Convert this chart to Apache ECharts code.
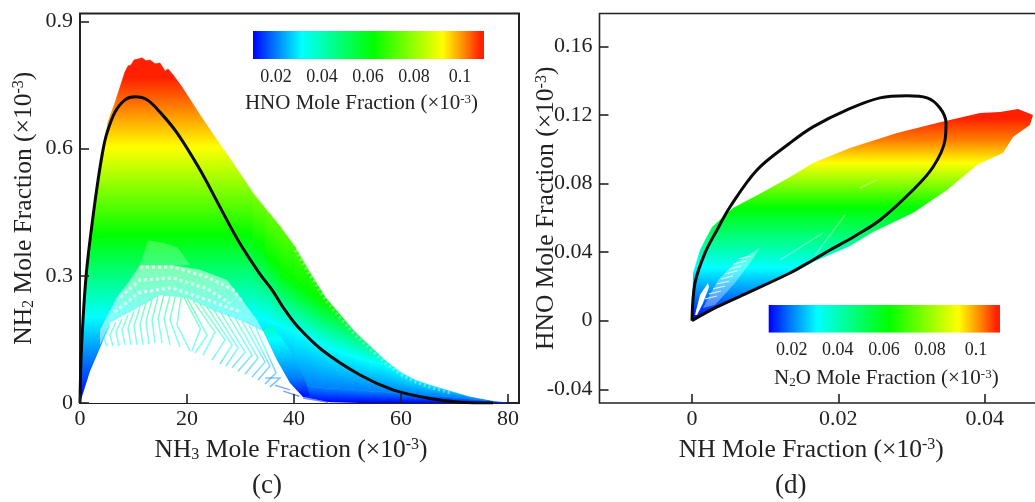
<!DOCTYPE html>
<html><head><meta charset="utf-8">
<style>html,body{margin:0;padding:0;background:#fff}#chart{width:1035px;height:502px}</style>
<script src="https://cdn.jsdelivr.net/npm/echarts@6/dist/echarts.min.js"></script>
</head><body><div id="chart"></div>
<script>
// ---------- Axis ticks ----------
const C_X_TICKS = [0, 20, 40, 60, 80];
const C_Y_TICKS = [0, 0.3, 0.6, 0.9];
const D_X_TICKS = [0, 0.02, 0.04];
const D_Y_TICKS = [-0.04, 0, 0.04, 0.08, 0.12, 0.16];
const BAR_TICKS = [0.02, 0.04, 0.06, 0.08, 0.1];

// ---------- Panel (c): NH3 (x) vs NH2 (y) ----------
const C_BLACK = [[0,0],[0.19,0.101],[0.56,0.196],[1.12,0.297],[1.87,0.384],[3.18,0.509],[4.3,0.597],[5.05,0.637],[6.54,0.686],[8.41,0.715],[10.28,0.722],[12.52,0.715],[14.95,0.686],[18.13,0.637],[22.43,0.55],[26.17,0.462],[29.53,0.384],[33.64,0.304],[35.89,0.267],[38.32,0.219],[40.75,0.179],[45.23,0.125],[52.34,0.066],[58.5,0.031],[64.86,0.012],[71.03,0.002],[77.2,0]];
// left part of the coloured cloud
const C_CLOUD_LEFT = [[0,0],[0.19,0.101],[0.56,0.196],[1.12,0.297],[1.87,0.384],[3.18,0.509],[4.3,0.597],[5.23,0.663],[6.54,0.708],[8.41,0.781],[8.97,0.795],[9.53,0.797],[10.09,0.809],[10.84,0.811],[11.59,0.814],[12.34,0.807],[13.08,0.809],[14.02,0.8],[14.95,0.802],[15.89,0.783],[16.45,0.788],[17.38,0.774],[19.07,0.745],[22.43,0.679],[25.61,0.62],[28.6,0.566],[32.34,0.495],[32.34,0]];
// right limb of the cloud, read column by column
const C_COL_X     = [32.34,34.58,37.38,40.19,42.99,45.79,48.6,51.4,54.21,57.01,59.81,62.62,65.42,69.16,72.9,76.64,79.81];
const C_COL_TOP   = [0.495,0.46,0.417,0.368,0.307,0.25,0.208,0.167,0.134,0.101,0.073,0.054,0.042,0.028,0.014,0.005,0];
const C_COL_GREEN = [0.384,0.361,0.309,0.283,0.257,0.235,0.22,0.2,0.18,0.165,0.15,0.14,0.13,0.12,0.11,0.1,0.09];
const C_COL_CYAN  = [0.203,0.196,0.184,0.167,0.153,0.134,0.12,0.108,0.098,0.09,0.075,0.062,0.05,0.04,0.032,0.025,0.02];
const C_COL_AZURE = [0.066,0.059,0.052,0.045,0.04,0.035,0.033,0.031,0.028,0.026,0.023,0.02,0.018,0.015,0.01,0.006,0.003];
const C_COL_FLOOR = [0,0,0,0,0,0,0,0,0,0,0,0,0,0,0,0,0];
const C_COL_YELLOW = [0.604,0.604,0.604,0.604,0.604,0.604,0.604,0.604,0.604,0.604,0.604,0.604,0.604,0.604,0.604,0.604,0.604];
const C_FRINGE = [[40.19,0.36],[42.99,0.3],[45.79,0.243],[48.6,0.2],[51.4,0.16],[54.21,0.127],[57.01,0.095],[59.81,0.068],[62.62,0.05],[65.42,0.037],[69.16,0.024]];
// levels of the colour scale on the NH2 axis
const C_LEFT_LEVELS = [0, 0.108, 0.203, 0.396, 0.604, 0.696, 0.767];
const C_BAND_LEVELS = [0.01, 0.06, 0.15, 0.28, 0.604, 0.696, 0.767];
const C_STROKE_LEVELS = [0, 0.05, 0.13, 0.34, 0.604, 0.696, 0.767];
// sparsely sampled regions
const C_BAND = [[34.21,0.17],[36.82,0.101],[39.25,0.047],[41.68,0.014],[42.99,0.017],[42.06,0.054],[39.25,0.125],[35.89,0.184]];
const C_PALE = [[3.74,0.137],[3.74,0.172],[6.92,0.25],[8.97,0.283],[11.21,0.325],[17.38,0.325],[22.43,0.314],[27.48,0.29],[29.91,0.25],[33.08,0.196],[34.21,0.17],[29.91,0.196],[24.86,0.219],[20,0.248],[14.95,0.255],[9.91,0.219],[5.61,0.189]];
const C_FUZZ = [[11.21,0.325],[12.71,0.384],[15.89,0.377],[18.32,0.366],[20.56,0.325]];
const C_BEADS = [
 [[11.21,0.321],[17.38,0.321],[23.74,0.297],[28.6,0.267],[30.47,0.236]],
 [[7.5,0.25],[11.2,0.29],[17.4,0.295],[23.7,0.27],[28,0.235]],
 [[6.5,0.215],[11,0.26],[17,0.272],[24,0.242],[30,0.215]]
];
const C_HOLE = [[0,0],[1.87,0.075],[3.74,0.13],[5.61,0.189],[9.91,0.219],[14.95,0.255],[20,0.248],[24.86,0.219],[29.91,0.196],[34.21,0.17],[36.82,0.101],[39.25,0.047],[41.68,0.014],[46.7,0.002],[52.34,0]];
const C_STROKES = [
 [[5.05,0.134],[4.49,0.153],[5.61,0.184]],
 [[6.17,0.134],[5.61,0.16],[6.73,0.191]],
 [[7.29,0.134],[6.73,0.167],[7.85,0.198]],
 [[8.41,0.137],[7.85,0.172],[8.97,0.208]],
 [[9.53,0.137],[8.97,0.177],[10.09,0.217]],
 [[10.65,0.137],[10.09,0.182],[11.21,0.226]],
 [[11.78,0.137],[11.21,0.186],[12.34,0.236]],
 [[12.9,0.139],[12.34,0.191],[13.46,0.245]],
 [[14.02,0.142],[13.46,0.196],[14.58,0.252]],
 [[15.33,0.142],[14.58,0.2],[15.7,0.255]],
 [[16.82,0.137],[15.7,0.2],[16.82,0.252]],
 [[18.69,0.132],[16.82,0.196],[17.76,0.25]],
 [[20.56,0.123],[18.13,0.184],[18.88,0.25]],
 [[19.4,0.25],[22.5,0.175],[20.9,0.122]],
 [[20,0.248],[23.74,0.16],[21.5,0.118]],
 [[21.12,0.241],[25.23,0.167],[22.99,0.113]],
 [[22.43,0.233],[27.1,0.149],[24.67,0.101]],
 [[23.74,0.226],[28.41,0.137],[26.17,0.092]],
 [[25.05,0.219],[29.53,0.13],[27.29,0.087]],
 [[26.36,0.212],[30.84,0.12],[28.41,0.083]],
 [[27.66,0.208],[32.15,0.113],[29.53,0.075]],
 [[28.97,0.2],[33.27,0.106],[30.84,0.068]],
 [[30.28,0.193],[34.58,0.097],[32.15,0.061]],
 [[31.59,0.184],[35.51,0.087],[33.27,0.054]],
 [[32.9,0.177],[36.64,0.071],[34.58,0.045]],
 [[34.58,0.059],[37.38,0.059],[35.51,0.038]],
 [[36.45,0.042],[39.25,0.031]],
 [[38,0.028],[41,0.016]],
 [[41.68,0.012],[46.36,0.002]]
];

// ---------- Panel (d): NH (x) vs HNO (y) ----------
const D_BLACK = [[0,0],[0.00041,0.022],[0.00178,0.0395],[0.00342,0.0529],[0.00519,0.0663],[0.00888,0.0879],[0.01339,0.1036],[0.01654,0.113],[0.02118,0.1229],[0.02569,0.1299],[0.02938,0.1311],[0.03212,0.1299],[0.03389,0.124],[0.03471,0.1153],[0.03458,0.1054],[0.03294,0.0896],[0.0302,0.0762],[0.02569,0.0587],[0.02228,0.0494],[0.01886,0.0412],[0.01654,0.0354],[0.01339,0.0278],[0.00752,0.0161],[0.00342,0.008],[0,0]];
const D_CLOUD = [[0,0],[0.00014,0.0278],[0.00109,0.0412],[0.00178,0.0471],[0.00273,0.0546],[0.0056,0.0657],[0.0097,0.075],[0.01339,0.0838],[0.01654,0.092],[0.02159,0.1007],[0.02802,0.1094],[0.03348,0.1153],[0.03936,0.1211],[0.04209,0.1217],[0.04455,0.1234],[0.0466,0.1199],[0.04619,0.1141],[0.04387,0.1071],[0.0425,0.0978],[0.03895,0.0908],[0.03485,0.0762],[0.0302,0.0628],[0.02474,0.0517],[0.02159,0.0436],[0.01654,0.0342],[0.01203,0.0243],[0.00752,0.0156],[0.00342,0.0074]];
const D_LEVELS = [0, 0.015, 0.0307, 0.066, 0.092, 0.105, 0.118];
const D_SLIT = [[0.00041,0.0033],[0.00109,0.015],[0.00219,0.022],[0.00232,0.0197],[0.0015,0.0103],[0.00068,0.0033]];
const D_LEAF = [[0.0015,0.0074],[0.00355,0.0237],[0.00588,0.0336],[0.00929,0.0424],[0.00793,0.0336],[0.00588,0.022],[0.00314,0.0092]];
const D_STROKES = [
 [[0.00178,0.0127],[0.00342,0.0144]],[[0.00232,0.0156],[0.00396,0.0173]],[[0.00287,0.0185],[0.00451,0.0202]],
 [[0.00342,0.0214],[0.00506,0.0231]],[[0.00396,0.0243],[0.0056,0.0261]],[[0.00451,0.0272],[0.00615,0.029]],
 [[0.00506,0.0301],[0.0067,0.0319]],[[0.00574,0.0331],[0.00738,0.0348]],[[0.00642,0.036],[0.00806,0.0377]]
];
const D_FAINT = [[[0.01203,0.0354],[0.0179,0.0512]],[[0.01681,0.0383],[0.02091,0.0616]],[[0.0229,0.0772],[0.0253,0.0822]]];

// ---------- Colour scale ----------
const SCALE_COLOURS = ['#0000ff','#0080ff','#00ffff','#00ff00','#ffff00','#ff8000','#ff2000'];
const BAR_EXTENT = [0.01, 0.1104];
const BAR_OFFSETS = [0, 0.1, 0.21, 0.52, 0.82, 0.92, 0.985];

const SERIF = '"Liberation Serif","Times New Roman",serif';
const INK = '#222';

function gradientFor(api, levels) {
  const y0 = api.coord([0, levels[0]])[1], y1 = api.coord([0, levels[levels.length - 1]])[1];
  const span = levels[levels.length - 1] - levels[0];
  const stops = levels.map((v, i) => ({ offset: (v - levels[0]) / span, color: SCALE_COLOURS[i] }));
  return new echarts.graphic.LinearGradient(0, y0, 0, y1, stops, true);
}
function customSeries(g, render) {
  return { type: 'custom', coordinateSystem: 'cartesian2d', xAxisIndex: g, yAxisIndex: g, clip: true, silent: true,
    animation: false, data: [[0, 0]], encode: { x: 0, y: 1 }, renderItem: render };
}
function polySeries(g, pts, styleFn) {
  return customSeries(g, (p, api) => ({ type: 'polygon', shape: { points: pts.map(q => api.coord(q)) }, style: styleFn(api) }));
}
function linesSeries(g, lines, styleFn) {
  return customSeries(g, (p, api) => ({ type: 'group', children: lines.map(l => ({ type: 'polyline',
    shape: { points: l.map(q => api.coord(q)) }, style: Object.assign({ fill: null }, styleFn(api)) })) }));
}
// right limb: each column strip is cut along the colour contours read at its edges,
// and every band gets a gradient that leans with those contours
function colsSeries() {
  const bands = [[C_COL_FLOOR, C_COL_AZURE, 0], [C_COL_AZURE, C_COL_CYAN, 1], [C_COL_CYAN, C_COL_GREEN, 2], [C_COL_GREEN, C_COL_YELLOW, 3]];
  return { type: 'custom', coordinateSystem: 'cartesian2d', xAxisIndex: 0, yAxisIndex: 0, silent: true, animation: false, clip: true,
    data: C_COL_X.slice(0, -1).map((x, i) => [x, C_COL_TOP[i]]), encode: { x: 0, y: 1 },
    renderItem: (p, api) => {
      const i = p.dataIndex;
      const xa = api.coord([C_COL_X[i], 0])[0], xb = api.coord([C_COL_X[i + 1], 0])[0], xm = (xa + xb) / 2;
      const py = v => api.coord([0, v])[1];
      const mid = a => (py(a[i]) + py(a[i + 1])) / 2;
      const slope = a => (py(a[i + 1]) - py(a[i])) / (xb - xa);
      const cap = (a, j) => Math.min(a[j], C_COL_TOP[j]);
      const live = bands.filter(b => cap(b[1], i) > cap(b[0], i) || cap(b[1], i + 1) > cap(b[0], i + 1));
      return { type: 'group', children: live.map(b => {
        const A = b[0], B = b[1];
        const s = (slope(A) + slope(B)) / 2, ya = mid(A), L = mid(B) - ya, k = L / (1 + s * s);
        const g = new echarts.graphic.LinearGradient(xm, ya, xm - s * k, ya + k,
          [{ offset: 0, color: SCALE_COLOURS[b[2]] }, { offset: 1, color: SCALE_COLOURS[b[2] + 1] }], true);
        return { type: 'polygon', shape: { points: [[C_COL_X[i], cap(A, i)], [C_COL_X[i], cap(B, i)], [C_COL_X[i + 1], cap(B, i + 1)], [C_COL_X[i + 1], cap(A, i + 1)]].map(q => api.coord(q)) },
          style: { fill: g, stroke: g, lineWidth: 0.6 } };
      }) };
    } };
}
function barSeries(g) {
  return customSeries(g, (p, api) => {
    const a = api.coord([BAR_EXTENT[0], 0]), b = api.coord([BAR_EXTENT[1], 1]);
    return { type: 'rect', shape: { x: a[0], y: b[1], width: b[0] - a[0], height: a[1] - b[1] },
      style: { fill: new echarts.graphic.LinearGradient(0, 0, 1, 0, BAR_OFFSETS.map((o, i) => ({ offset: o, color: SCALE_COLOURS[i] }))) } };
  });
}
function richFor(size) {
  const s = Math.round(size * 0.62);
  return {
    sub: { fontFamily: SERIF, fontSize: s, color: INK, verticalAlign: 'bottom', padding: [Math.round(size * 0.35), 0, 0, 0] },
    sup: { fontFamily: SERIF, fontSize: s, color: INK, verticalAlign: 'top', padding: [0, 0, Math.round(size * 0.4), 0] }
  };
}
function nameStyle(size, padding) {
  return { fontFamily: SERIF, fontSize: size, color: INK, padding: padding, rich: richFor(size) };
}
function mainX(i, min, max, ticks, name, pad) {
  return { gridIndex: i, type: 'value', min, max, name, nameLocation: 'middle', nameMoveOverlap: false, nameGap: 34, nameTextStyle: nameStyle(25.5, pad), z: 10,
    splitLine: { show: false },
    axisLine: { show: false, onZero: false },
    axisTick: { show: true, inside: true, length: 9, customValues: ticks, lineStyle: { color: INK, width: 1.6 } },
    axisLabel: { customValues: ticks, margin: 5, fontFamily: SERIF, fontSize: 22, color: INK } };
}
function mainY(i, min, max, ticks, name, gap) {
  return { gridIndex: i, type: 'value', min, max, name, nameLocation: 'middle', nameMoveOverlap: false, nameGap: gap, nameRotate: 90, nameTextStyle: nameStyle(25.5, [0, 0, 0, 0]), z: 10,
    splitLine: { show: false },
    axisLine: { show: false, onZero: false },
    axisTick: { show: true, inside: true, length: 9, customValues: ticks, lineStyle: { color: INK, width: 1.6 } },
    axisLabel: { customValues: ticks, margin: 7, fontFamily: SERIF, fontSize: 22, color: INK } };
}
function barX(i, name, pad, gap) {
  return { gridIndex: i, type: 'value', min: BAR_EXTENT[0], max: BAR_EXTENT[1], name, nameLocation: 'middle', nameMoveOverlap: false, nameGap: gap, nameTextStyle: nameStyle(21, pad),
    splitLine: { show: false }, axisLine: { show: false, onZero: false },
    axisTick: { show: false },
    axisLabel: { customValues: BAR_TICKS, margin: 9, fontFamily: SERIF, fontSize: 18, color: INK } };
}
function barY(i) {
  return { gridIndex: i, type: 'value', min: 0, max: 1, show: false };
}
function blackLine(g, data, w) {
  return { type: 'line', xAxisIndex: g, yAxisIndex: g, data, smooth: 0.35, showSymbol: false, symbol: 'none', silent: true, animation: false,
    lineStyle: { color: '#0a0a0a', width: w }, z: 5 };
}

const option = {
  backgroundColor: '#ffffff',
  animation: false,
  graphic: [
    { type: 'text', left: 252, top: 472, style: { text: '(c)', font: '27px ' + SERIF, fill: INK } },
    { type: 'text', left: 775, top: 472, style: { text: '(d)', font: '27px ' + SERIF, fill: INK } }
  ],
  grid: [
    { left: 80, top: 13.5, width: 439, height: 389.5, show: true, borderColor: INK, borderWidth: 2, backgroundColor: 'transparent', containLabel: false, outerBoundsMode: 'none' },
    { left: 599.5, top: 13.5, width: 445.5, height: 389.5, show: true, borderColor: INK, borderWidth: 1.6, backgroundColor: 'transparent', containLabel: false, outerBoundsMode: 'none' },
    { left: 253, top: 31, width: 231, height: 28, containLabel: false, outerBoundsMode: 'none' },
    { left: 768.7, top: 305, width: 231.3, height: 27.7, containLabel: false, outerBoundsMode: 'none' }
  ],
  xAxis: [
    mainX(0, 0, 82.05, C_X_TICKS, 'NH{sub|3} Mole Fraction (×10{sup|-3})', [0, 17, 0, 0]),
    mainX(1, -0.01264, 0.04824, D_X_TICKS, 'NH Mole Fraction (×10{sup|-3})', [0, 22, 0, 0]),
    barX(2, 'HNO Mole Fraction (×10{sup|-3})', [0, 14, 0, 0], 34),
    barX(3, 'N{sub|2}O Mole Fraction (×10{sup|-3})', [0, 0, 0, 4], 35)
  ],
  yAxis: [
    mainY(0, 0, 0.9186, C_Y_TICKS, 'NH{sub|2} Mole Fraction (×10{sup|-3})', 43),
    mainY(1, -0.048, 0.1791, D_Y_TICKS, 'HNO Mole Fraction (×10{sup|-3})', 40),
    barY(2), barY(3)
  ],
  series: [
    polySeries(0, C_CLOUD_LEFT, api => { const g = gradientFor(api, C_LEFT_LEVELS); return { fill: g, stroke: g, lineWidth: 0.6 }; }),
    colsSeries(),
    linesSeries(0, [C_FRINGE], () => ({ stroke: 'rgba(255,255,255,0.4)', lineWidth: 3, lineDash: [2, 3] })),
    polySeries(0, C_BAND, api => ({ fill: gradientFor(api, C_BAND_LEVELS) })),
    polySeries(0, C_FUZZ, () => ({ fill: 'rgba(255,255,255,0.22)' })),
    polySeries(0, C_PALE, () => ({ fill: 'rgba(255,255,255,0.5)' })),
    linesSeries(0, C_BEADS, () => ({ stroke: 'rgba(255,255,255,0.75)', lineWidth: 3, lineDash: [3, 3] })),
    polySeries(0, C_HOLE, () => ({ fill: '#ffffff' })),
    linesSeries(0, C_STROKES, api => ({ stroke: gradientFor(api, C_STROKE_LEVELS), lineWidth: 1.5, opacity: 0.5 })),
    blackLine(0, C_BLACK, 3),

    polySeries(1, D_CLOUD, api => ({ fill: gradientFor(api, D_LEVELS) })),
    polySeries(1, D_LEAF, () => ({ fill: 'rgba(255,255,255,0.35)' })),
    linesSeries(1, D_STROKES, () => ({ stroke: 'rgba(255,255,255,0.75)', lineWidth: 1.2 })),
    linesSeries(1, D_FAINT, () => ({ stroke: 'rgba(255,255,255,0.3)', lineWidth: 1.5 })),
    polySeries(1, D_SLIT, () => ({ fill: '#ffffff' })),
    blackLine(1, D_BLACK, 3),

    barSeries(2),
    barSeries(3)
  ]
};
const chart = echarts.init(document.getElementById('chart'), null, { renderer: 'canvas' });
chart.setOption(option);
</script></body></html>
